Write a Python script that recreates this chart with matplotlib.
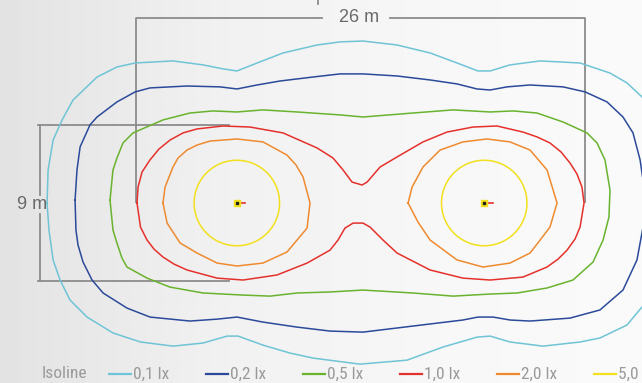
import numpy as np
import matplotlib
matplotlib.use("Agg")
import matplotlib.pyplot as plt
from matplotlib import font_manager
from matplotlib.patches import Circle

# isoline levels (lux) and legend labels
levels = ["0,1 lx", "0,2 lx", "0,5 lx", "1,0 lx", "2,0 lx", "5,0 lx"]
colors = ["#6fc4d5", "#2b4a9a", "#69b32e", "#e5312c", "#ef8a2f", "#f2e01c"]

# isolines, metres, origin midway between the two luminaires
iso01_x = [-18.12, -18.06, -17.77, -17.25, -16.62, -15.23, -14.08, -13.03, -10.84, -9.10,
           -7.95, -7.14, -5.98, -4.48, -2.51, -1.18, 0.14, 2.11, 4.02, 5.58,
           6.79, 7.49, 8.64, 10.38, 12.69, 14.42, 15.40, 16.27, 17.02, 17.60,
           18.00, 18.12, 18.00, 17.60, 17.02, 16.27, 15.40, 13.84, 12.69, 10.55,
           8.64, 7.49, 6.73, 4.77, 2.69, -0.03, -2.75, -4.08, -5.64, -7.08,
           -7.72, -9.10, -10.84, -12.72, -14.31, -15.81, -16.79, -17.37, -17.77, -18.01]
iso01_y = [0.00, 1.91, 3.64, 4.80, 5.95, 7.28, 7.86, 8.09, 8.21, 7.98,
           7.75, 7.63, 8.09, 8.67, 9.13, 9.31, 9.36, 9.13, 8.67, 8.09,
           7.63, 7.63, 7.98, 8.21, 8.09, 7.51, 6.94, 6.13, 5.09, 3.64,
           1.91, 0.00, -1.85, -3.58, -5.03, -6.01, -7.05, -7.80, -8.03, -8.27,
           -8.03, -7.69, -7.75, -8.32, -9.08, -9.31, -8.96, -8.67, -8.21, -7.69,
           -7.69, -8.09, -8.27, -8.03, -7.51, -6.59, -5.61, -4.45, -3.29, -1.56]

iso02_x = [-16.50, -16.39, -16.21, -15.64, -15.23, -14.08, -13.03, -12.17, -10.03, -8.12,
           -7.14, -5.98, -4.65, -2.75, -1.18, 0.14, 2.11, 4.02, 5.58, 6.73,
           7.49, 8.47, 9.80, 11.71, 12.98, 14.25, 15.17, 15.75, 16.16, 16.39,
           16.45, 16.33, 15.98, 15.17, 13.84, 12.11, 9.80, 8.64, 7.66, 6.79,
           5.92, 3.03, 0.14, -1.76, -3.67, -5.64, -7.14, -8.29, -9.86, -12.17,
           -13.50, -14.88, -15.52, -16.04, -16.33, -16.45]
iso02_y = [0.17, 1.91, 3.24, 4.51, 4.97, 5.84, 6.42, 6.65, 6.76, 6.71,
           6.59, 6.82, 7.05, 7.28, 7.46, 7.46, 7.34, 7.11, 6.88, 6.59,
           6.53, 6.71, 6.82, 6.71, 6.42, 5.84, 4.97, 4.05, 2.49, 0.92,
           0.00, -1.39, -3.29, -5.03, -6.18, -6.65, -6.82, -6.76, -6.59, -6.59,
           -6.76, -7.11, -7.46, -7.40, -7.17, -6.88, -6.59, -6.71, -6.82, -6.59,
           -6.07, -5.20, -4.45, -3.41, -2.43, -1.56]

iso05_x = [-14.48, -14.31, -14.08, -13.73, -13.15, -11.42, -9.86, -8.53, -7.14, -5.64,
           -3.67, -1.18, 0.14, 3.03, 5.35, 7.49, 8.82, 10.20, 11.71, 13.09,
           13.67, 14.13, 14.42, 14.36, 14.02, 13.44, 12.28, 10.78, 9.05, 7.49,
           5.35, 3.03, 0.14, -1.76, -3.67, -5.23, -6.79, -9.10, -11.01, -12.34,
           -13.50, -13.79, -14.08, -14.31]
iso05_y = [0.17, 1.91, 2.60, 3.47, 4.05, 4.80, 5.20, 5.32, 5.26, 5.38,
           5.26, 5.09, 4.97, 5.20, 5.38, 5.26, 5.32, 5.20, 4.68, 4.05,
           3.47, 2.49, 0.75, -0.81, -2.14, -3.41, -4.45, -4.91, -5.20, -5.26,
           -5.38, -5.20, -5.03, -5.14, -5.20, -5.38, -5.32, -5.20, -4.86, -4.34,
           -3.70, -3.18, -2.31, -1.56]

iso10_x = [-12.92, -12.86, -12.63, -12.17, -11.65, -11.01, -10.26, -9.45, -7.95, -6.39,
           -4.48, -2.51, -1.59, -1.01, -0.49, 0.09, 0.38, 1.13, 2.11, 3.61,
           5.00, 6.50, 7.89, 9.39, 10.20, 10.95, 11.59, 12.11, 12.51, 12.80,
           12.92, 12.69, 12.40, 11.94, 11.42, 10.78, 9.39, 7.49, 5.92, 4.02,
           2.11, 1.30, 0.55, 0.14, -0.43, -0.90, -1.30, -1.76, -3.09, -4.83,
           -6.79, -8.29, -10.03, -10.78, -11.42, -11.94, -12.34, -12.72]
iso10_y = [0.00, 0.92, 1.79, 2.49, 3.12, 3.64, 4.05, 4.28, 4.45, 4.39,
           4.05, 3.18, 2.60, 1.91, 1.21, 1.04, 1.21, 2.08, 2.66, 3.53,
           4.10, 4.39, 4.45, 4.10, 3.82, 3.47, 2.95, 2.31, 1.68, 0.92,
           0.00, -1.39, -2.08, -2.72, -3.24, -3.70, -4.28, -4.45, -4.34, -3.87,
           -2.89, -2.14, -1.39, -1.16, -1.16, -1.45, -2.14, -2.72, -3.47, -4.16,
           -4.45, -4.34, -3.87, -3.53, -3.12, -2.66, -2.14, -1.39]

iso20a_x = [-11.42, -11.30, -10.84, -10.55, -10.03, -9.45, -8.70, -7.14, -5.64, -4.25,
            -3.73, -3.32, -2.92, -3.09, -3.67, -4.25, -5.64, -7.14, -8.29, -9.45,
            -10.43, -11.18]
iso20a_y = [0.00, 0.92, 2.08, 2.60, 3.06, 3.35, 3.58, 3.70, 3.53, 2.77,
            2.20, 1.50, 0.00, -1.45, -2.14, -2.83, -3.47, -3.64, -3.47, -2.89,
            -2.31, -1.16]
iso20b_x = [2.75, 2.98, 3.61, 4.60, 5.92, 7.31, 8.64, 9.80, 10.78, 11.36,
            10.95, 10.38, 9.80, 8.64, 7.08, 5.58, 4.02, 3.32]
iso20b_y = [0.00, 0.92, 2.08, 3.06, 3.53, 3.70, 3.53, 3.06, 1.91, 0.00,
            -1.39, -2.14, -2.89, -3.47, -3.70, -3.29, -2.14, -1.10]

iso50_radius = 2.47          # 5,0 lx isoline is a circle round each luminaire
lum_x = [-7.15, 7.15]
lum_y = [0.0, 0.0]

span_width = 26              # m, top dimension
span_height = 9              # m, left dimension

# fonts
names = {f.name for f in font_manager.fontManager.ttflist}
narrow = next((n for n in ["Liberation Sans Narrow", "Roboto Condensed"] if n in names),
              "Liberation Sans")
plain = "Liberation Sans" if "Liberation Sans" in names else "DejaVu Sans"

fig = plt.figure(figsize=(6.42, 3.83), dpi=100)
ax = fig.add_axes([0, 0, 1, 1])
x_lim = (-20.84, 16.27)
y_lim = (-10.40, 11.73)
ax.set_xlim(*x_lim)
ax.set_ylim(*y_lim)
ax.axis("off")

# light grey to white background
grad = np.interp(np.linspace(0, 1, 400), [0, 0.35, 0.7, 1], [0.89, 0.945, 0.97, 0.98])
ax.imshow(np.tile(grad, (2, 1)), cmap="gray", vmin=0, vmax=1, aspect="auto",
          extent=(*x_lim, *y_lim), zorder=0)

lw = 1.1
curves = [(iso01_x, iso01_y, 0), (iso02_x, iso02_y, 1), (iso05_x, iso05_y, 2),
          (iso10_x, iso10_y, 3), (iso20a_x, iso20a_y, 4), (iso20b_x, iso20b_y, 4)]
for xs, ys, k in curves:
    ax.plot(xs + xs[:1], ys + ys[:1], color=colors[k], lw=lw, zorder=3,
            solid_joinstyle="round")
for x, y in zip(lum_x, lum_y):
    ax.add_patch(Circle((x, y), iso50_radius, fill=False, ec=colors[5], lw=lw, zorder=3))

# luminaires
for x, y in zip(lum_x, lum_y):
    ax.plot([x, x + 0.5], [y, y], color="#e5312c", lw=1.2, zorder=4)
    ax.plot(x, y, marker="s", ms=4, mfc="#f2e01c", mec="#f2e01c", zorder=5)
    ax.plot(x, y, marker="s", ms=1.6, mfc="#222222", mec="#222222", zorder=6)

# dimension lines
dim_c = "#8c8c8c"
top_y = 10.69
half = span_width / 2
ax.plot([-half, -half, -2.2], [0.05, top_y, top_y], color=dim_c, lw=1.3, zorder=2)
ax.plot([1.7, half, half], [top_y, top_y, 0.05], color=dim_c, lw=1.3, zorder=2)
ax.text(-0.1, top_y, f"{span_width} m", ha="center", va="center", fontsize=13,
        color="#6a6a6a", family=plain)
ax.plot([-2.44, -2.44], [11.73, 11.5], color=dim_c, lw=1.3, zorder=2)

dim_x = -18.53
hh = span_height / 2
ax.plot([-7.6, dim_x - 0.1], [hh, hh], color=dim_c, lw=1.3, zorder=2)
ax.plot([-7.6, dim_x - 0.1], [-hh, -hh], color=dim_c, lw=1.3, zorder=2)
ax.plot([dim_x, dim_x], [hh, 0.45], color=dim_c, lw=1.3, zorder=2)
ax.plot([dim_x, dim_x], [-0.65, -hh], color=dim_c, lw=1.3, zorder=2)
ax.text(-19.0, -0.1, f"{span_height} m", ha="center", va="center", fontsize=13,
        color="#6a6a6a", family=plain)

# legend in pixel space
lg = fig.add_axes([0, 0, 1, 1], facecolor="none")
lg.set_xlim(0, 642)
lg.set_ylim(383, 0)
lg.axis("off")
leg_y = 374
lg.text(42, leg_y, "Isoline", ha="left", va="center", fontsize=12.5, color="#9a9a9a",
        family=narrow)
for i, (lab, c) in enumerate(zip(levels, colors)):
    x0 = 109 + 97 * i
    lg.plot([x0, x0 + 22], [leg_y, leg_y], color=c, lw=1.6)
    lg.text(x0 + 24, leg_y, lab, ha="left", va="center", fontsize=12.5,
            color="#9a9a9a", family=narrow)

fig.savefig("out.png", dpi=100)
